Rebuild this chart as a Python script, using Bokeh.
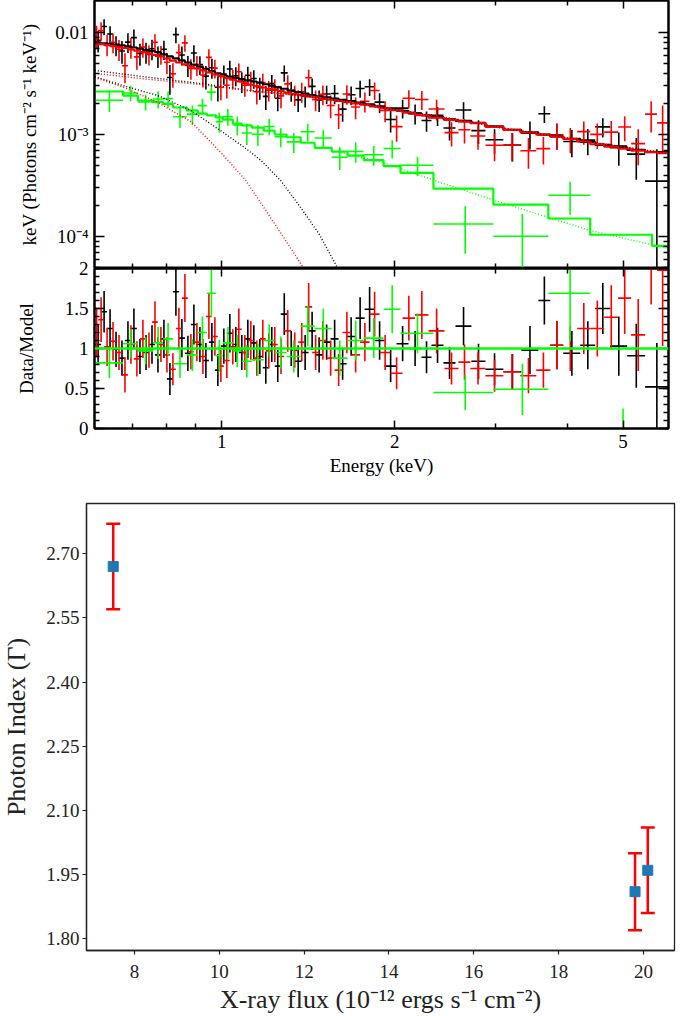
import numpy as np
from bokeh.plotting import figure
from bokeh.layouts import column
from bokeh.models import (FixedTicker, LogAxis, LinearAxis, Span, Range1d,
                          BasicTickFormatter, PrintfTickFormatter, Whisker, TeeHead,
                          ColumnDataSource)
from bokeh.embed import file_html
from bokeh.resources import INLINE

SERIF = "Liberation Serif"

# ---------------- spectrum data (energies in keV, fluxes in 1e-3 units) ----------------
black_edges = [0.6014, 0.6161, 0.6310, 0.6463, 0.6619, 0.6779, 0.6944, 0.7112, 0.7288, 0.7467,
               0.7646, 0.7832, 0.8022, 0.8217, 0.8417, 0.8622, 0.8832, 0.9047, 0.9268, 0.9493,
               0.9724, 0.9960, 1.0202, 1.0450, 1.0704, 1.0965, 1.1232, 1.1505, 1.1785, 1.2071,
               1.2365, 1.2666, 1.3025, 1.3392, 1.3772, 1.4163, 1.4566, 1.4981, 1.5470, 1.5974,
               1.6495, 1.7100, 1.7728, 1.8451, 1.9207, 2.0155, 2.1147, 2.2275, 2.3186, 2.4327,
               2.5528, 2.7211, 2.8788, 3.0935, 3.3246, 3.5590, 3.7342, 3.9336, 4.2103, 4.4717,
               4.7482, 5.0827, 5.4627, 5.9897]
black_model = [7.98, 7.85, 7.73, 7.61, 7.49, 7.32, 7.13, 6.94, 6.77, 6.59, 6.41, 6.11, 5.84, 5.57,
               5.33, 5.08, 4.85, 4.61, 4.39, 4.18, 3.98, 3.79, 3.69, 3.59, 3.49, 3.40, 3.31, 3.22,
               3.11, 3.01, 2.91, 2.81, 2.69, 2.60, 2.52, 2.43, 2.37, 2.31, 2.25, 2.19, 2.13, 2.05,
               1.97, 1.89, 1.80, 1.71, 1.61, 1.54, 1.48, 1.41, 1.36, 1.30, 1.20, 1.11, 1.05, 0.998,
               0.956, 0.907, 0.846, 0.791, 0.749, 0.706, 0.671]
black_ratio = [1.05, 1.46, 1.25, 0.99, 0.88, 1.10, 1.25, 0.90, 0.95, 1.05, 0.92, 1.12, 0.62, 1.71,
               1.13, 0.94, 1.30, 1.05, 0.85, 1.08, 0.73, 1.03, 1.19, 1.05, 0.95, 1.12, 1.07, 0.90,
               0.76, 1.05, 0.78, 1.43, 1.00, 0.84, 0.95, 1.22, 0.92, 1.08, 1.12, 0.81, 1.15, 1.38,
               1.49, 1.10, 0.78, 1.06, 1.00, 0.89, 1.04, 0.82, 1.28, 0.84, 0.74, 0.71, 0.98, 1.60,
               1.04, 0.94, 1.04, 1.50, 1.03, 0.91, 0.52]
black_rerr = [0.25, 0.26, 0.24, 0.22, 0.22, 0.24, 0.25, 0.22, 0.22, 0.24, 0.22, 0.24, 0.20, 0.30,
              0.24, 0.22, 0.25, 0.22, 0.22, 0.24, 0.20, 0.22, 0.24, 0.22, 0.22, 0.24, 0.22, 0.22,
              0.20, 0.22, 0.20, 0.26, 0.22, 0.20, 0.22, 0.24, 0.22, 0.22, 0.24, 0.20, 0.24, 0.26,
              0.28, 0.24, 0.20, 0.22, 0.22, 0.20, 0.22, 0.20, 0.24, 0.22, 0.20, 0.22, 0.30, 0.30,
              0.30, 0.28, 0.30, 0.32, 0.37, 0.40, 0.55]

red_edges = [0.6014, 0.6087, 0.6235, 0.6386, 0.6540, 0.6699, 0.6861, 0.7027, 0.7197, 0.7375,
             0.7556, 0.7738, 0.7926, 0.8119, 0.8316, 0.8519, 0.8726, 0.8939, 0.9157, 0.9380,
             0.9608, 0.9842, 1.0080, 1.0325, 1.0576, 1.0834, 1.1098, 1.1368, 1.1644, 1.1927,
             1.2217, 1.2515, 1.2844, 1.3207, 1.3587, 1.3970, 1.4363, 1.4772, 1.5224, 1.5720,
             1.6232, 1.6795, 1.7412, 1.8087, 1.8826, 1.9676, 2.0644, 2.1703, 2.2909, 2.4425,
             2.5836, 2.7102, 2.8788, 3.0935, 3.3113, 3.5307, 3.7342, 3.9336, 4.1601, 4.3830,
             4.6355, 4.9023, 5.1648, 5.4627, 5.7311, 5.9897]
red_model = [7.82, 7.68, 7.52, 7.36, 7.21, 7.05, 6.83, 6.63, 6.42, 6.23, 6.04, 5.82, 5.56, 5.31,
             5.08, 4.86, 4.64, 4.45, 4.25, 4.07, 3.89, 3.73, 3.58, 3.45, 3.32, 3.21, 3.08, 2.98,
             2.89, 2.81, 2.74, 2.66, 2.57, 2.50, 2.43, 2.37, 2.31, 2.25, 2.19, 2.14, 2.08, 2.02,
             1.96, 1.89, 1.81, 1.73, 1.64, 1.55, 1.46, 1.39, 1.34, 1.29, 1.19, 1.11, 1.05, 0.995,
             0.950, 0.907, 0.854, 0.802, 0.759, 0.726, 0.695, 0.674, 0.656]
red_ratio = [1.19, 1.36, 1.02, 1.09, 0.95, 0.67, 1.05, 0.87, 1.12, 0.98, 1.33, 1.05, 0.92, 0.74,
             1.25, 1.63, 0.96, 1.08, 0.90, 1.40, 1.15, 0.78, 0.85, 1.02, 1.24, 0.95, 1.10, 0.88,
             1.12, 0.97, 1.05, 0.90, 1.22, 0.98, 1.08, 1.52, 0.95, 1.10, 0.88, 0.73, 1.20, 0.92,
             1.08, 1.43, 0.95, 0.69, 1.38, 1.42, 1.22, 0.75, 0.83, 0.75, 0.66, 0.71, 0.66, 0.73,
             1.04, 1.00, 1.25, 1.25, 1.39, 1.63, 1.17, 2.35, 1.98]
red_rerr = [0.30, 0.28, 0.24, 0.24, 0.22, 0.22, 0.24, 0.22, 0.24, 0.22, 0.26, 0.22, 0.22, 0.20,
            0.26, 0.30, 0.22, 0.24, 0.22, 0.28, 0.24, 0.20, 0.22, 0.22, 0.26, 0.22, 0.24, 0.22,
            0.24, 0.22, 0.22, 0.22, 0.26, 0.22, 0.24, 0.30, 0.22, 0.24, 0.22, 0.20, 0.26, 0.22,
            0.24, 0.28, 0.22, 0.20, 0.28, 0.30, 0.28, 0.20, 0.22, 0.20, 0.20, 0.22, 0.22, 0.22,
            0.30, 0.28, 0.32, 0.35, 0.40, 0.45, 0.45, 0.80, 0.95]

green_edges = [0.601, 0.673, 0.714, 0.759, 0.790, 0.822, 0.869, 0.908, 0.942, 0.976, 1.004,
               1.045, 1.083, 1.128, 1.183, 1.236, 1.297, 1.372, 1.451, 1.554, 1.656, 1.766,
               1.913, 2.048, 2.337, 2.972, 3.705, 4.382, 5.618, 5.99]
green_model = [2.64, 2.41, 2.15, 2.08, 2.00, 1.84, 1.72, 1.60, 1.54, 1.47, 1.40, 1.28, 1.23,
               1.17, 1.09, 1.00, 0.94, 0.83, 0.74, 0.68, 0.62, 0.56, 0.49, 0.42, 0.295, 0.205,
               0.150, 0.104, 0.081]
green_ratio = [0.82, 1.06, 0.97, 1.07, 1.12, 0.81, 0.92, 1.20, 1.69, 0.91, 1.07, 0.97, 0.84,
               0.86, 1.10, 0.95, 0.90, 1.28, 1.25, 0.88, 1.10, 1.13, 1.49, 1.19, 0.45, 0.49,
               1.69, -0.10]
green_rerr = [0.19, 0.18, 0.17, 0.20, 0.20, 0.18, 0.20, 0.20, 0.30, 0.20, 0.20, 0.20, 0.20,
              0.20, 0.20, 0.20, 0.20, 0.25, 0.25, 0.22, 0.25, 0.25, 0.30, 0.25, 0.22, 0.32,
              0.60, 0.35]

# model components (dotted)
bb_black_E = [0.601, 0.681, 0.774, 0.883, 1.000, 1.101, 1.169, 1.266, 1.372, 1.475, 1.566, 1.591]
bb_black_F = [3.70, 2.95, 2.41, 1.72, 1.07, 0.729, 0.56, 0.354, 0.192, 0.107, 0.058, 0.0486]
bb_red_E = [0.601, 0.675, 0.774, 0.883, 1.000, 1.101, 1.193, 1.292, 1.389]
bb_red_F = [3.62, 2.89, 2.06, 1.34, 0.651, 0.354, 0.18, 0.0914, 0.0486]
pl_E = [0.601, 0.752, 0.919, 1.123, 1.372, 1.676, 2.048, 2.502, 3.056, 3.734, 4.561, 5.99]
pl_black_F = [4.24, 3.62, 3.16, 2.70, 2.41, 2.06, 1.72, 1.44, 1.17, 0.98, 0.82, 0.65]
pl_red_F = [3.97, 3.46, 3.09, 2.66, 2.39, 2.05, 1.71, 1.43, 1.16, 0.97, 0.81, 0.65]
green_dot_E = [1.611, 1.913, 2.404, 2.996, 3.705, 4.382, 5.99]
green_dot_F = [0.666, 0.531, 0.338, 0.225, 0.1536, 0.1145, 0.0763]

FLUX_UNIT = 1e-3

# ---------------- photon index vs flux ----------------
xray_flux = [7.5, 19.8, 20.1]
photon_index = [2.67, 1.91, 1.96]
photon_index_err = [0.10, 0.09, 0.10]

GREEN = "#00ff00"

# ---------------- helpers ----------------
def step_path(edges, vals):
    xs, ys = [], []
    for i, v in enumerate(vals):
        xs += [edges[i], edges[i + 1]]
        ys += [v, v]
    return xs, ys


def style_axis(ax, labels, tick_in, minor_in, size="19px", standoff=6):
    ax.major_tick_in = tick_in
    ax.major_tick_out = 0
    ax.minor_tick_in = minor_in
    ax.minor_tick_out = 0
    ax.axis_line_width = 2
    ax.axis_line_color = "black"
    ax.major_tick_line_width = 1.5
    ax.minor_tick_line_width = 1.5
    ax.major_tick_line_color = "black"
    ax.minor_tick_line_color = "black"
    if labels:
        ax.major_label_text_font = SERIF
        ax.major_label_text_font_size = size
        ax.major_label_text_color = "black"
        ax.major_label_standoff = standoff
        ax.axis_label_text_font = SERIF
        ax.axis_label_text_font_size = "19px"
        ax.axis_label_text_font_style = "normal"
        ax.axis_label_text_color = "black"
    else:
        ax.major_label_text_font_size = "1px"
        ax.major_label_text_color = None
        ax.major_label_standoff = 0
    return ax


def base_fig(**kw):
    p = figure(output_backend="svg", toolbar_location=None, **kw)
    p.outline_line_color = "black"
    p.outline_line_width = 2
    p.background_fill_color = "white"
    p.border_fill_color = "white"
    return p


E_RANGE = Range1d(0.6, 6.0)
F_RANGE = Range1d(4.853e-5, 2.06e-2)

xticker = lambda: FixedTicker(ticks=[1, 2, 5], minor_ticks=[0.7, 0.8, 0.9, 3, 4])
yticker_log = lambda: FixedTicker(ticks=[1e-4, 1e-3, 1e-2],
                                  minor_ticks=[m * 10.0 ** k for k in (-5, -4, -3) for m in range(2, 10)])
yticker_ratio = lambda: FixedTicker(ticks=[0, 0.5, 1, 1.5, 2],
                                    minor_ticks=[i / 10 for i in range(0, 21)])

# ---------------- top panel ----------------
p1 = base_fig(width=670, height=268, x_range=E_RANGE, y_range=F_RANGE,
              x_axis_type="log", y_axis_type="log", x_axis_location=None, y_axis_location=None,
              min_border_left=94, min_border_right=2, min_border_top=0, min_border_bottom=0)

left1 = LogAxis(ticker=yticker_log(), formatter=BasicTickFormatter(),
                axis_label="keV (Photons cm\u207b\u00b2 s\u207b\u00b9 keV\u207b\u00b9)")
style_axis(left1, True, 10, 5)
left1.major_label_overrides = {0.01: "0.01", 0.001: "10\u207b\u00b3", 0.0001: "10\u207b\u2074"}
left1.axis_label_standoff = 12
p1.add_layout(left1, "left")
p1.add_layout(style_axis(LogAxis(ticker=yticker_log()), False, 10, 5), "right")
p1.add_layout(style_axis(LogAxis(ticker=xticker()), False, 8, 5), "below")
p1.add_layout(style_axis(LogAxis(ticker=xticker()), False, 8, 5), "above")

# residual panel: its canvas overlaps the bottom 12px of the top panel (transparent border)
p2 = base_fig(width=670, height=224, x_range=E_RANGE, y_range=Range1d(0, 2),
              x_axis_type="log", x_axis_location=None, y_axis_location=None,
              min_border_left=94, min_border_right=2, min_border_top=12, min_border_bottom=52)
p2.border_fill_color = None
p2.styles = {"margin-top": "-12px", "position": "relative", "z-index": "2"}
left2 = LinearAxis(ticker=yticker_ratio(), axis_label="Data/Model")
style_axis(left2, True, 10, 5)
left2.major_label_overrides = {0: "0", 0.5: "0.5", 1: "1", 1.5: "1.5", 2: "2"}
left2.axis_label_standoff = 25
p2.add_layout(left2, "left")
p2.add_layout(style_axis(LinearAxis(ticker=yticker_ratio()), False, 10, 5), "right")
below2 = LogAxis(ticker=xticker(), formatter=BasicTickFormatter(), axis_label="Energy (keV)")
style_axis(below2, True, 8, 5)
below2.axis_label_standoff = 4
p2.add_layout(below2, "below")
p2.add_layout(style_axis(LogAxis(ticker=xticker()), False, 8, 5), "above")

for p in (p1, p2):
    p.grid.visible = False

series = [
    (black_edges, black_model, black_ratio, black_rerr, "black"),
    (red_edges, red_model, red_ratio, red_rerr, "red"),
    (green_edges, green_model, green_ratio, green_rerr, GREEN),
]

for edges, model, ratio, rerr, col in series:
    n = len(ratio)
    e = np.asarray(edges, float)
    lo, hi = e[:-1][:n], e[1:][:n]
    xc = 0.5 * (lo + hi)
    m = np.asarray(model, float)[:n] * FLUX_UNIT
    r = np.asarray(ratio, float)
    re = np.asarray(rerr, float)
    flux = m * r
    ferr = m * re
    pos = flux > 0
    flo = np.where(flux - ferr > 0, flux - ferr, 1e-9)
    p1.segment(lo[pos], flux[pos], hi[pos], flux[pos], line_color=col, line_width=1.6)
    p1.segment(xc, flo, xc, flux + ferr, line_color=col, line_width=1.6)
    p2.segment(lo, r, hi, r, line_color=col, line_width=1.6)
    p2.segment(xc, r - re, xc, r + re, line_color=col, line_width=1.6)

for edges, model, ratio, rerr, col in series:
    xs, ys = step_path(edges, model)
    p1.line(xs, np.asarray(ys) * FLUX_UNIT, line_color=col, line_width=2.2)

dot = dict(line_dash="1 2", line_width=1.4)
p1.line(pl_E, np.asarray(pl_black_F) * FLUX_UNIT, line_color="black", **dot)
p1.line(pl_E, np.asarray(pl_red_F) * FLUX_UNIT, line_color="red", **dot)
p1.line(bb_black_E, np.asarray(bb_black_F) * FLUX_UNIT, line_color="black", **dot)
p1.line(bb_red_E, np.asarray(bb_red_F) * FLUX_UNIT, line_color="red", **dot)
p1.line(green_dot_E, np.asarray(green_dot_F) * FLUX_UNIT, line_color=GREEN, **dot)

p2.add_layout(Span(location=1, dimension="width", line_color=GREEN, line_width=2.5))

# ---------------- bottom chart ----------------
g = np.asarray(photon_index)
ge = np.asarray(photon_index_err)
src = ColumnDataSource(dict(x=xray_flux, y=photon_index, lo=g - ge, hi=g + ge))

# the column aligns frame edges (left border 94); shift this plot left by 8px
p3 = figure(width=692, height=536, x_range=Range1d(6.87, 20.73), y_range=Range1d(1.7725, 2.8175),
            output_backend="svg", toolbar_location=None,
            min_border_left=94, min_border_right=2, min_border_top=23, min_border_bottom=66)
p3.styles = {"margin-left": "-8px"}
p3.outline_line_color = "#222222"
p3.outline_line_width = 1.3
p3.xgrid.visible = False
p3.ygrid.visible = False
for ax in (p3.xaxis[0], p3.yaxis[0]):
    ax.axis_line_color = "#222222"
    ax.axis_line_width = 1.3
    ax.major_tick_out = 4
    ax.major_tick_in = 0
    ax.minor_tick_out = 0
    ax.minor_tick_in = 0
    ax.major_tick_line_color = "#222222"
    ax.major_tick_line_width = 1.2
    ax.major_label_text_font = SERIF
    ax.major_label_text_font_size = "19px"
    ax.major_label_text_color = "#222222"
    ax.axis_label_text_font = SERIF
    ax.axis_label_text_font_size = "26px"
    ax.axis_label_text_font_style = "normal"
    ax.axis_label_text_color = "#222222"
p3.xaxis[0].ticker = FixedTicker(ticks=[8, 10, 12, 14, 16, 18, 20])
p3.yaxis[0].ticker = FixedTicker(ticks=[1.80, 1.95, 2.10, 2.25, 2.40, 2.55, 2.70])
p3.yaxis[0].formatter = PrintfTickFormatter(format="%.2f")
p3.xaxis[0].axis_label = "X-ray flux (10\u207b\u00b9\u00b2 ergs s\u207b\u00b9 cm\u207b\u00b2)"
p3.yaxis[0].axis_label = "Photon Index (\u0393)"
p3.xaxis[0].major_label_standoff = 10
p3.xaxis[0].axis_label_standoff = 4
p3.yaxis[0].major_label_standoff = 3
p3.yaxis[0].axis_label_standoff = 12

p3.add_layout(Whisker(base="x", upper="hi", lower="lo", source=src, line_color="red", line_width=2.5,
                      upper_head=TeeHead(size=14, line_color="red", line_width=2.5),
                      lower_head=TeeHead(size=14, line_color="red", line_width=2.5)))
p3.scatter("x", "y", source=src, marker="square", size=10, fill_color="#1f77b4",
           line_color="#1f77b4")

layout = column(p1, p2, p3, spacing=0)
open("out.html", "w").write(file_html(layout, INLINE))
